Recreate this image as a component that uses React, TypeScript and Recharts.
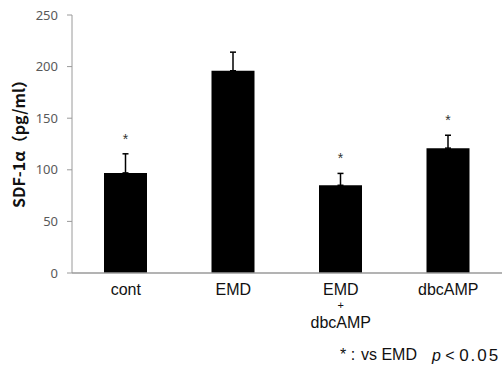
import { Bar, BarChart, ErrorBar, LabelList, XAxis, YAxis, Label } from "recharts"

// group names, mean SDF-1α (pg/ml), SD, and significance vs EMD
const groups = ["cont", "EMD", "EMD+dbcAMP", "dbcAMP"]
const means = [97, 196, 85, 121]
const sds = [18.5, 18, 11.5, 12.5]
const sig = [true, false, true, true]
const yTicks = [0, 50, 100, 150, 200, 250]

const data = groups.map((g, i) => ({
  name: g,
  value: means[i],
  err: [0, sds[i]],
}))

const font = "'Liberation Sans', Arial, sans-serif"

const AxisTick = (props: any) => {
  const { x, y, payload } = props
  const style = { fontFamily: font, fill: "#111" }
  if (payload.value === "EMD+dbcAMP") {
    return (
      <g>
        <text x={x} y={y + 22} textAnchor="middle" fontSize={16} style={style}>EMD</text>
        <text x={x} y={y + 36} textAnchor="middle" fontSize={11} style={style}>+</text>
        <text x={x} y={y + 55} textAnchor="middle" fontSize={16} style={style}>dbcAMP</text>
      </g>
    )
  }
  return (
    <text x={x} y={y + 22} textAnchor="middle" fontSize={16} style={style}>
      {payload.value}
    </text>
  )
}

const Star = (props: any) => {
  const { x, y, width, height, value, index } = props
  if (!sig[index]) return null
  const pxPerUnit = height / value
  const top = y - sds[index] * pxPerUnit
  return (
    <text x={x + width / 2} y={top - 10} textAnchor="middle" fontSize={14} fill="#333" style={{ fontFamily: font }}>
      *
    </text>
  )
}

const YLabel = (props: any) => {
  const { viewBox } = props
  const cx = 18
  const cy = viewBox.y + viewBox.height / 2 - 4
  return (
    <text
      x={cx}
      y={cy}
      transform={`rotate(-90 ${cx} ${cy})`}
      textAnchor="middle"
      dominantBaseline="central"
      fontSize={16}
      fontWeight="bold"
      fill="#111"
      style={{ fontFamily: "'Noto Sans CJK JP', 'Noto Sans', sans-serif" }}
    >
      SDF-1α（pg/ml）
    </text>
  )
}

export default function App() {
  const note = { position: "absolute" as const, top: 346, whiteSpace: "nowrap" as const, fontSize: 16, fontFamily: font, color: "#111" }
  return (
    <div style={{ position: "absolute", left: 0, top: 0, width: 502, height: 371, overflow: "hidden", background: "#fff" }}>
      <BarChart width={502} height={371} data={data} margin={{ top: 15, right: 0, left: 0, bottom: 38 }} barSize={43}>
        <XAxis
          dataKey="name"
          stroke="#9a9a9a"
          strokeWidth={1.5}
          tickLine={false}
          tickSize={0}
          tickMargin={0}
          height={60}
          interval={0}
          tick={<AxisTick />}
        />
        <YAxis
          domain={[0, 250]}
          ticks={yTicks}
          width={72}
          stroke="#9a9a9a"
          strokeWidth={1}
          tickSize={5}
          tickMargin={9}
          tick={{ fill: "#595959", fontSize: 13, fontFamily: "'Noto Sans', sans-serif" }}
        >
          <Label content={<YLabel />} />
        </YAxis>
        <Bar dataKey="value" fill="#000" isAnimationActive={false}>
          <ErrorBar dataKey="err" width={3} stroke="#000" strokeWidth={1.5} direction="y" />
          <LabelList dataKey="value" content={<Star />} />
        </Bar>
      </BarChart>
      <div style={{ ...note, left: 340 }}>* :</div>
      <div style={{ ...note, left: 361 }}>vs EMD</div>
      <div style={{ ...note, left: 432 }}>
        <i>p</i> &lt; <span style={{ fontSize: 17, letterSpacing: 2 }}>0.05</span>
      </div>
    </div>
  )
}
